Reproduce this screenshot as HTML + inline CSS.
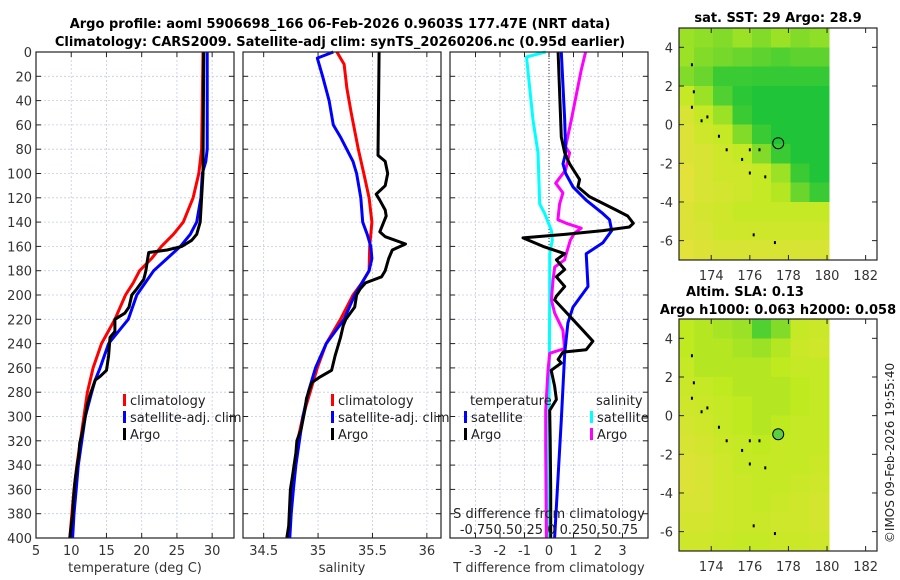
<!DOCTYPE html>
<html><head><meta charset="utf-8"><style>
html,body{margin:0;padding:0;background:#fff;}
svg{display:block;font-family:"DejaVu Sans","Liberation Sans",sans-serif;}
</style></head><body>
<svg id="fig" width="900" height="580" viewBox="0 0 900 580" xmlns="http://www.w3.org/2000/svg">
<text x="340" y="28" text-anchor="middle" font-size="13" font-weight="bold">Argo profile: aoml 5906698_166 06-Feb-2026 0.9603S 177.47E (NRT data)</text>
<text x="340" y="46" text-anchor="middle" font-size="13" font-weight="bold">Climatology: CARS2009. Satellite-adj clim: synTS_20260206.nc (0.95d earlier)</text>
<text x="778" y="22" text-anchor="middle" font-size="13" font-weight="bold">sat. SST: 29 Argo: 28.9</text>
<text x="745" y="296" text-anchor="middle" font-size="13" font-weight="bold">Altim. SLA: 0.13</text>
<text x="778" y="314" text-anchor="middle" font-size="13" font-weight="bold">Argo h1000: 0.063 h2000: 0.058</text>
<text transform="translate(894,453) rotate(-90)" text-anchor="middle" font-size="12" fill="#222">©IMOS 09-Feb-2026 19:55:40</text>
</svg>
<script>
// ---- profile data (depth in m) ----
const climD=[0,80,100,120,140,150,160,170,180,190,200,220,240,260,280,300,320,340,360,380,400];
const climT=[28.7,28.5,28.1,27.3,25.9,24.5,22.8,21.4,19.7,18.8,17.7,16.2,14.3,13.1,12.3,11.8,11.3,10.8,10.4,10.1,9.8];
const satD=[0,80,90,100,120,140,150,160,170,180,190,200,220,240,260,270,280,300,320,340,360,380,400];
const satT=[29.3,29.3,29.1,28.6,28.4,27.8,26.9,25.5,23.6,21.7,20.5,19.3,18.1,15.3,14.1,13.4,12.9,12.0,11.5,11.0,10.7,10.4,10.2];
const argoTD=[0,100,140,150,155,160,163,165,172,180,187,195,200,210,215,220,230,235,250,262,267,270,280,290,300,315,322,330,350,355,370,380,400];
const argoT=[28.8,28.7,28.3,27.8,27.1,25.7,23.6,21.0,20.8,20.6,20.3,19.3,18.6,18.2,17.6,16.2,16.2,15.5,15.3,15.0,14.1,13.4,12.8,12.3,12.0,11.5,11.2,11.1,10.6,10.5,10.3,10.2,9.8];
const climSD=[0,10,30,50,80,100,120,140,160,180,190,200,220,240,260,280,300,320,340,360,380,400];
const climS=[35.173,35.239,35.265,35.305,35.370,35.420,35.469,35.495,35.475,35.469,35.403,35.321,35.206,35.075,34.993,34.927,34.861,34.812,34.786,34.763,34.746,34.730];
const satSD=[0,5,20,40,60,70,90,100,120,140,150,160,170,180,190,200,220,240,260,280,300,320,340,360,380,400];
const satS=[35.140,34.993,35.042,35.101,35.140,35.206,35.321,35.354,35.393,35.410,35.452,35.485,35.495,35.469,35.403,35.337,35.239,35.075,34.976,34.910,34.861,34.828,34.796,34.773,34.753,34.740];
const argoSD=[0,85,90,100,110,117,122,130,135,148,152,158,163,170,180,185,190,195,200,210,220,225,235,250,262,268,272,285,295,310,320,330,350,360,390,400];
const argoS=[35.561,35.551,35.617,35.640,35.617,35.534,35.567,35.617,35.626,35.567,35.617,35.804,35.682,35.649,35.617,35.584,35.436,35.387,35.354,35.337,35.255,35.232,35.206,35.157,35.124,35.009,34.943,34.894,34.878,34.845,34.805,34.796,34.763,34.746,34.730,34.713];
// difference panel
const satTdD=[0,56,83,92,100,111,122,133,138,147,157,166,193,210,223,248,303,400];
const satTd=[0.50,0.64,0.68,0.57,0.68,0.98,1.52,2.20,2.47,2.56,2.20,1.52,1.59,0.98,0.77,0.64,0.50,0.23];
const argoTdD=[0,70,83,92,105,111,119,130,135,141,144,147,150,153,160,166,171,179,185,193,201,204,229,238,245,247,253,256,262,275,286,295,320,360,400];
const argoTd=[0.37,0.50,0.64,0.84,1.25,1.18,1.65,2.74,3.21,3.44,3.28,2.20,0.70,-1.06,-0.24,0.64,0.30,0.64,0.30,0.64,0.30,0.23,1.38,1.79,1.52,0.57,0.37,0.50,0.09,0.23,0.30,0.03,0.05,0.07,0.07];
const satSdD=[0,4,56,83,125,133,147,155,166,200,300,400];
const satSd=[-0.034,-0.23,-0.163,-0.112,-0.095,-0.044,0.024,0.034,0.007,0.007,0.0,-0.010];
const argoSdD=[0,15,56,78,83,97,108,116,125,138,141,145,149,155,166,171,177,188,204,215,229,244,248,262,295,325,400];
const argoSd=[0.373,0.329,0.227,0.169,0.210,0.169,0.068,0.142,0.108,0.091,0.176,0.329,0.261,0.217,0.176,0.159,0.058,0.041,0.024,0.058,0.142,0.159,0.007,-0.010,-0.034,-0.034,-0.027];
// map data: rows lat 5→-7 (1 deg), cols lon 172.1→180.1 (1 deg); 0=yellow,1=green
const sstGrid=[
[0.5,0.55,0.6,0.5,0.6,0.5,0.6,0.55],
[0.5,0.6,0.65,0.7,0.75,0.8,0.75,0.75],
[0.6,0.7,0.9,0.9,0.92,0.92,0.92,0.92],
[0.3,0.5,0.8,0.95,1,1,1,1],
[0.1,0.3,0.5,0.9,1,1,1,1],
[0.05,0.2,0.3,0.6,0.9,1,1,1],
[0.05,0.1,0.2,0.3,0.6,0.9,1,1],
[0,0.1,0.2,0.2,0.3,0.5,0.9,1],
[0,0.1,0.15,0.2,0.3,0.4,0.7,0.9],
[0.05,0.15,0.2,0.3,0.3,0.3,0.3,0.3],
[0.05,0.1,0.2,0.2,0.2,0.2,0.2,0.2],
[0,0.05,0.1,0.1,0.1,0.1,0.1,0.1]];
const slaGrid=[
[0.35,0.4,0.45,0.5,0.8,0.6,0.3,0.25],
[0.35,0.4,0.4,0.45,0.5,0.4,0.25,0.2],
[0.3,0.4,0.4,0.4,0.4,0.35,0.3,0.3],
[0.25,0.3,0.35,0.4,0.4,0.4,0.35,0.3],
[0.2,0.25,0.3,0.35,0.4,0.4,0.35,0.3],
[0.15,0.2,0.3,0.35,0.4,0.35,0.3,0.3],
[0.1,0.15,0.25,0.3,0.35,0.3,0.3,0.3],
[0.05,0.1,0.2,0.3,0.3,0.3,0.3,0.25],
[0.05,0.1,0.2,0.25,0.3,0.3,0.25,0.2],
[0.1,0.1,0.2,0.25,0.3,0.25,0.2,0.15],
[0.15,0.15,0.2,0.25,0.25,0.2,0.2,0.15],
[0.2,0.2,0.25,0.3,0.3,0.25,0.25,0.2]];
const islandLon=[173.0,173.1,173.0,173.5,173.8,174.4,174.8,175.6,176.0,176.5,176.0,176.8,176.2,177.3];
const islandLat=[3.1,1.7,0.9,0.2,0.4,-0.6,-1.3,-1.8,-1.3,-1.3,-2.5,-2.7,-5.7,-6.1];
const argoLon=177.47, argoLat=-0.96;
const depthTicks=[0,20,40,60,80,100,120,140,160,180,200,220,240,260,280,300,320,340,360,380,400];
const tempTicks=[5,10,15,20,25,30];
const salTicks=[34.5,35,35.5,36];
const dTicks=[-3,-2,-1,0,1,2,3];
const lonTicks=[174,176,178,180,182];
const latTicks=[4,2,0,-2,-4,-6];

const NS='http://www.w3.org/2000/svg';
const svg=document.getElementById('fig');
function el(tag,attrs,parent){const e=document.createElementNS(NS,tag);for(const k in attrs)e.setAttribute(k,attrs[k]);(parent||svg).appendChild(e);return e;}
const Y0=52,Y1=538;
const yD=d=>Y0+(d/400)*(Y1-Y0);

function panel(name,x0,x1,xmin,xmax,xt,xlabel,showY){
  const sx=v=>x0+(v-xmin)/(xmax-xmin)*(x1-x0);
  const g=el('g',{});
  
  
  el('rect',{x:x0,y:Y0,width:x1-x0,height:Y1-Y0,fill:'#fff'},g);
  depthTicks.forEach(d=>{
    el('line',{x1:x0,x2:x1,y1:yD(d),y2:yD(d),stroke:'#c4cbe6','stroke-width':0.8,'stroke-dasharray':'2,2'},g);
    el('line',{x1:x0,x2:x0+5,y1:yD(d),y2:yD(d),stroke:'#222'},g);
    el('line',{x1:x1-5,x2:x1,y1:yD(d),y2:yD(d),stroke:'#222'},g);
    if(showY){const t=el('text',{x:x0-4,y:yD(d)+5,'text-anchor':'end','font-size':13,fill:'#333'},g);t.textContent=d;}
  });
  xt.forEach(v=>{
    const X=sx(v);
    el('line',{x1:X,x2:X,y1:Y0,y2:Y1,stroke:'#c4cbe6','stroke-width':0.8,'stroke-dasharray':'2,2'},g);
    el('line',{x1:X,x2:X,y1:Y1-5,y2:Y1,stroke:'#222'},g);
    el('line',{x1:X,x2:X,y1:Y0,y2:Y0+5,stroke:'#222'},g);
    const t=el('text',{x:X,y:Y1+17,'text-anchor':'middle','font-size':13,fill:'#333'},g);t.textContent=v;
  });
  const xl=el('text',{x:(x0+x1)/2,y:Y1+34,'text-anchor':'middle','font-size':13,fill:'#333'},g);xl.textContent=xlabel;
  return {g,sx};
}
function series(p,name,vals,ds,color,scale){
  const pts=vals.map((v,i)=>p.sx(v*(scale||1)).toFixed(1)+','+yD(ds[i]).toFixed(1)).join(' ');
  const l=el('polyline',{points:pts,fill:'none',stroke:color,'stroke-width':3,'stroke-linejoin':'round'},p.g);
  
  
}
function frame(p,x0,x1){el('rect',{x:x0,y:Y0,width:x1-x0,height:Y1-Y0,fill:'none',stroke:'#222','stroke-width':1.2},p.g);}
function legend(p,x,y,labels,colors,prefix){
  labels.forEach((s,i)=>{
    const gg=el('g',{},p.g);
    
    
    el('rect',{x:x,y:y+i*17-11,width:3,height:12,fill:colors[i]},gg);
    const t=el('text',{x:x+7,y:y+i*17,'font-size':13,fill:'#222'},gg);t.textContent=s;
  });
}
// Panel 1 temperature
const p1=panel('temperature-panel',36,234,5,33.1,tempTicks,'temperature (deg C)',true);
series(p1,'temp-climatology',climT,climD,'#f00');
series(p1,'temp-satellite-adj',satT,satD,'#00f');
series(p1,'temp-argo',argoT,argoTD,'#000');
legend(p1,123,405,['climatology','satellite-adj. clim','Argo'],['#f00','#00f','#000'],'temp');
frame(p1,36,234);
// Panel 2 salinity
const p2=panel('salinity-panel',243,441,34.31,36.13,salTicks,'salinity',false);
series(p2,'sal-climatology',climS,climSD,'#f00');
series(p2,'sal-satellite-adj',satS,satSD,'#00f');
series(p2,'sal-argo',argoS,argoSD,'#000');
legend(p2,331,405,['climatology','satellite-adj. clim','Argo'],['#f00','#00f','#000'],'sal');
frame(p2,243,441);
// Panel 3 differences
const p3=panel('difference-panel',450,648,-4.04,4.04,dTicks,'T difference from climatology',false);
el('line',{x1:p3.sx(0),x2:p3.sx(0),y1:Y0,y2:Y1,stroke:'#333','stroke-width':1,'stroke-dasharray':'1,2'},p3.g);
series(p3,'sal-diff-satellite',satSd,satSdD,'#0ff',4);
series(p3,'sal-diff-argo',argoSd,argoSdD,'#f0f',4);
series(p3,'temp-diff-satellite',satTd,satTdD,'#00f');
series(p3,'temp-diff-argo',argoTd,argoTdD,'#000');
let t=el('text',{x:470,y:405,'font-size':13,fill:'#222'},p3.g);t.textContent='temperature';
t=el('text',{x:596,y:405,'font-size':13,fill:'#222'},p3.g);t.textContent='salinity';
legend(p3,464,422,['satellite','Argo'],['#00f','#000'],'tdiff');
legend(p3,590,422,['satellite','Argo'],['#0ff','#f0f'],'sdiff');
t=el('text',{x:549,y:518,'text-anchor':'middle','font-size':13,fill:'#222'},p3.g);t.textContent='S difference from climatology';
t=el('text',{x:549,y:534,'text-anchor':'middle','font-size':13,fill:'#222'},p3.g);t.textContent='-0.750.50.25 0 0.250.50.75';
frame(p3,450,648);

// Maps
function colr(v){
  const st=[[0,[226,226,58]],[0.35,[192,234,32]],[1,[32,196,56]]];
  let a=st[0],b=st[1];if(v>0.35){a=st[1];b=st[2];}
  const f=(v-a[0])/(b[0]-a[0]);
  return 'rgb('+a[1].map((c,i)=>Math.round(c+(b[1][i]-c)*f)).join(',')+')';
}
function map(name,top,grid,circleFill){
  const L=679,R=877,B=top+232;
  const sx=lon=>L+(lon-172.33)*19.3;
  const sy=lat=>top+(5-lat)*19.33;
  const g=el('g',{});
  
  
  grid.forEach((row,r)=>row.forEach((v,c)=>{
    const x=Math.max(L,sx(172.1+c));
    el('rect',{x:x.toFixed(1),y:sy(5-r).toFixed(1),width:(sx(173.1+c)-x+0.6).toFixed(1),height:19.9,fill:colr(v),'shape-rendering':'crispEdges'},g);
  }));
  islandLon.forEach((lo,i)=>{el('rect',{x:sx(lo)-1,y:sy(islandLat[i])-1.5,width:2,height:3,fill:'#000'},g);});
  const c=el('circle',{cx:sx(argoLon),cy:sy(argoLat),r:5.5,fill:circleFill,stroke:'#000','stroke-width':1},g);
  
  
  el('rect',{x:L,y:top,width:R-L,height:B-top,fill:'none',stroke:'#222','stroke-width':1.2},g);
  lonTicks.forEach(v=>{el('line',{x1:sx(v),x2:sx(v),y1:B,y2:B-5,stroke:'#222'},g);el('line',{x1:sx(v),x2:sx(v),y1:top,y2:top+5,stroke:'#222'},g);
    const tt=el('text',{x:sx(v),y:B+20,'text-anchor':'middle','font-size':13,fill:'#333'},g);tt.textContent=v;});
  latTicks.forEach(v=>{el('line',{x1:L,x2:L+5,y1:sy(v),y2:sy(v),stroke:'#222'},g);el('line',{x1:R-5,x2:R,y1:sy(v),y2:sy(v),stroke:'#222'},g);
    const tt=el('text',{x:L-6,y:sy(v)+5,'text-anchor':'end','font-size':13,fill:'#333'},g);tt.textContent=v;});
}
map('sst-map',28,sstGrid,'none');
map('sla-map',319,slaGrid,'#5ad040');
</script>
</body></html>
